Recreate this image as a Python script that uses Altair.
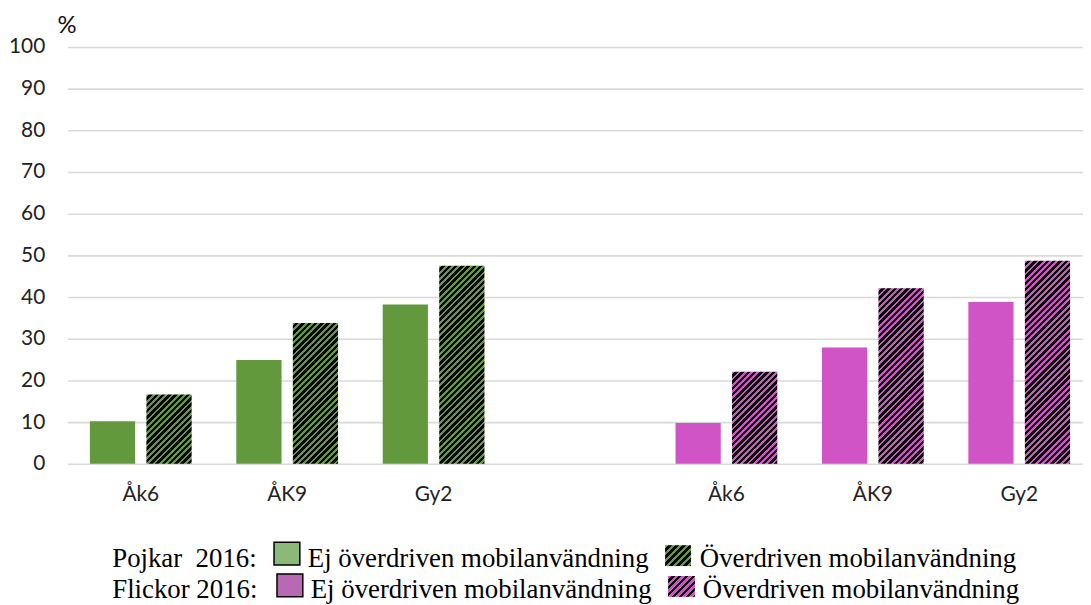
import math
import altair as alt
import pandas as pd

# ---------------- data ----------------
groups = ["Pojkar", "Flickor"]
classes = ["Åk6", "ÅK9", "Gy2"]
types = ["Ej överdriven mobilanvändning", "Överdriven mobilanvändning"]
pojkar_ej = [10.2, 24.9, 38.2]
pojkar_over = [16.6, 33.8, 47.5]
flickor_ej = [9.8, 27.9, 38.8]
flickor_over = [22.1, 42.1, 48.7]
y_ticks = [0, 10, 20, 30, 40, 50, 60, 70, 80, 90, 100]
legend_rows = ["Pojkar \u00a02016:", "Flickor 2016:"]

# ---------------- style ----------------
GREEN = "#62993d"
PINK = "#d054c6"
GREEN_LEG = "#8ab978"
PINK_LEG = "#b968b4"
PLOT_W, PLOT_H = 1023, 420
X_RANGE = 1032.5
OFF_PI, OFF_PO = 0.2, 0.395
PERIOD = 6.3
COLOR_FRAC = 0.45

rows = []
for g, ej, ov in [("Pojkar", pojkar_ej, pojkar_over), ("Flickor", flickor_ej, flickor_over)]:
    for c, a, b in zip(classes, ej, ov):
        rows.append(dict(group=g, slot=f"{g}|{c}", typ="ej", value=a))
        rows.append(dict(group=g, slot=f"{g}|{c}", typ="over", value=b))
df = pd.DataFrame(rows)

slots = [f"Pojkar|{c}" for c in classes] + [" "] + [f"Flickor|{c}" for c in classes]


def hatch(color, w, h, period=PERIOD, frac=COLOR_FRAC):
    L = w + h
    n = int(math.ceil(L / period))
    stops = []
    for k in range(n):
        a = round(k * period / L, 5)
        b = round(min((k + frac) * period / L, 1.0), 5)
        c = round(min((k + 1) * period / L, 1.0), 5)
        stops += [
            {"offset": a, "color": color},
            {"offset": b, "color": color},
            {"offset": b, "color": "#000000"},
            {"offset": c, "color": "#000000"},
        ]
    d = w * w + h * h
    return {"gradient": "linear", "x1": 0, "y1": 0,
            "x2": w * L / d, "y2": h * L / d, "stops": stops}


step_x = X_RANGE / len(slots)
step_o = step_x / (2 - OFF_PI + 2 * OFF_PO)
bar_w = step_o * (1 - OFF_PI)

x_enc = alt.X(
    "slot:N",
    scale=alt.Scale(domain=slots, range=[0, X_RANGE], paddingInner=0, paddingOuter=0),
    axis=alt.Axis(
        title=None, labelAngle=0, ticks=False, domain=False, grid=False,
        labelPadding=20, labelFontSize=21, labelFont="Lato", labelColor="#222222",
        labelExpr="indexof(datum.label, '|') < 0 ? '' : split(datum.label, '|')[1]",
    ),
)
xo_enc = alt.XOffset("typ:N", scale=alt.Scale(domain=["ej", "over"], paddingInner=OFF_PI, paddingOuter=OFF_PO))
y_enc = alt.Y(
    "value:Q",
    scale=alt.Scale(domain=[0, 100], nice=False),
    axis=alt.Axis(
        values=y_ticks, ticks=False, domain=False, grid=True,
        gridColor="#d9d9d9", gridWidth=1.6,
        labelPadding=23, labelFontSize=21, labelFont="Lato", labelColor="#222222",
        title="%", titleAngle=0, titleAlign="center", titleBaseline="middle",
        titleX=-1, titleY=-22, titleFont="Lato", titleFontSize=24,
        titleFontWeight="normal", titleColor="#111111",
    ),
)

ej_layer = alt.Chart(df).transform_filter("datum.typ == 'ej'").mark_bar().encode(
    x=x_enc, xOffset=xo_enc, y=y_enc,
    color=alt.Color("group:N", scale=alt.Scale(domain=groups, range=[GREEN, PINK]), legend=None),
)

layers = [ej_layer]
for g, vals, col in [("Pojkar", pojkar_over, GREEN), ("Flickor", flickor_over, PINK)]:
    for c, v in zip(classes, vals):
        h = v * PLOT_H / 100.0
        layers.append(
            alt.Chart(df)
            .transform_filter(f"datum.slot == '{g}|{c}' && datum.typ == 'over'")
            .mark_bar(fill=hatch(col, bar_w, h))
            .encode(x=x_enc, xOffset=xo_enc, y=y_enc)
        )

# ---------------- custom legend ----------------
one = pd.DataFrame({"k": [0]})
ROW_Y = [524, 555]
SERIF = "Liberation Serif"
LFS = 27


def leg_text(txt, x, y):
    return alt.Chart(pd.DataFrame({"t": [txt]})).mark_text(
        align="left", baseline="alphabetic", font=SERIF, fontSize=LFS, color="#000000"
    ).encode(text="t:N", x=alt.value(x), y=alt.value(y))


def leg_box(x0, y0, w, h, fill, stroke=None):
    kw = dict(fill=fill)
    if stroke:
        kw.update(stroke=stroke, strokeWidth=1.5)
    return alt.Chart(one).mark_rect(**kw).encode(
        x=alt.value(x0), x2=alt.value(x0 + w), y=alt.value(y0), y2=alt.value(y0 + h)
    )


layers += [
    leg_text(legend_rows[0], 45, ROW_Y[0]),
    leg_box(208, 499, 26, 23, GREEN_LEG, "#000000"),
    leg_text(types[0], 242, ROW_Y[0]),
    leg_box(602, 502, 26, 21, hatch(GREEN, 26, 21, 7.0, 0.5)),
    leg_text(types[1], 637, ROW_Y[0]),
    leg_text(legend_rows[1], 45, ROW_Y[1]),
    leg_box(211, 531, 26, 23, PINK_LEG, "#000000"),
    leg_text(types[0], 245, ROW_Y[1]),
    leg_box(605, 533, 27, 21, hatch(PINK, 27, 21, 7.0, 0.5)),
    leg_text(types[1], 640, ROW_Y[1]),
]

chart = alt.layer(*layers).properties(
    width=PLOT_W, height=PLOT_H,
    autosize=alt.AutoSizeParams(type="none"),
    padding={"left": 60, "top": 37, "right": 0, "bottom": 140},
    background="white",
).configure_view(stroke=None)

chart.save("out.html", embed_options={"renderer": "svg", "actions": False})
